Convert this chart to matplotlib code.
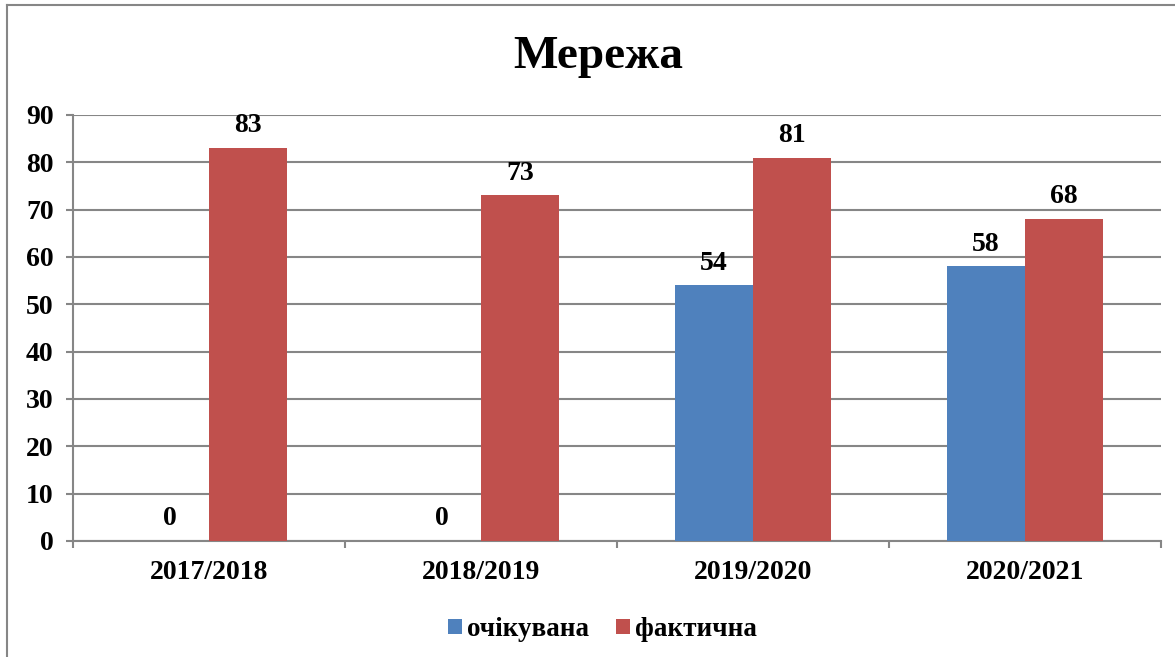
import matplotlib.pyplot as plt
from matplotlib.patches import Patch
from matplotlib.lines import Line2D
import numpy as np

categories = ['2017/2018', '2018/2019', '2019/2020', '2020/2021']
expected = [0, 0, 54, 58]
actual = [83, 73, 81, 68]
series_names = ['очікувана', 'фактична']
title = 'Мережа'

blue = '#4F81BD'
red = '#C0504D'
grid = '#868686'

plt.rcParams['font.family'] = ['Liberation Serif', 'DejaVu Serif']
plt.rcParams['font.weight'] = 'bold'

fig = plt.figure(figsize=(11.75, 6.57), dpi=100)
ax = fig.add_axes([0.0621, 0.1766, 0.988 - 0.0621, 0.825 - 0.1766])

x = np.arange(len(categories))
w = 0.287
b1 = ax.bar(x - w / 2, expected, w, color=blue, zorder=3)
b2 = ax.bar(x + w / 2, actual, w, color=red, zorder=3)

for bars in (b1, b2):
    for rect in bars:
        h = rect.get_height()
        ax.annotate('%d' % h, (rect.get_x() + rect.get_width() / 2, h),
                    xytext=(0, 7), textcoords='offset points',
                    ha='center', va='bottom', fontsize=20, fontweight='bold')

ax.set_xlim(-0.5, len(categories) - 0.5)
ax.set_ylim(0, 90)
ax.set_yticks(range(0, 91, 10))
ax.yaxis.grid(True, color=grid, linewidth=1.5, zorder=0)
ax.set_axisbelow(True)

ax.set_xticks(x)
ax.set_xticklabels(categories, fontsize=20, fontweight='bold')
ax.set_xticks(np.arange(-0.5, len(categories), 1), minor=True)
ax.tick_params(axis='x', which='major', length=0, pad=14)
ax.tick_params(axis='x', which='minor', length=5, color=grid, width=1.5, direction='out')
ax.tick_params(axis='y', length=5, color=grid, width=1.5, labelsize=20, pad=9)
for lbl in ax.get_yticklabels():
    lbl.set_fontweight('bold')

for s in ('top', 'right'):
    ax.spines[s].set_visible(False)
for s in ('left', 'bottom'):
    ax.spines[s].set_color(grid)
    ax.spines[s].set_linewidth(1.5)

fig.text(0.509, 0.913, title, ha='center', va='center', fontsize=34, fontweight='bold')

handles = [Patch(facecolor=blue), Patch(facecolor=red)]
fig.legend(handles, series_names, loc='center', bbox_to_anchor=(0.513, 0.042),
           ncol=2, frameon=False, handlelength=0.5, handleheight=0.5,
           handletextpad=0.2, columnspacing=1.0, prop={'size': 19.5, 'weight': 'bold'})

# chart frame
fig.add_artist(Line2D([0.006, 0.006], [0, 0.992], color=grid, linewidth=1.5))
fig.add_artist(Line2D([0.006, 1.0], [0.992, 0.992], color=grid, linewidth=1.5))

fig.savefig('out.png', dpi=100)
